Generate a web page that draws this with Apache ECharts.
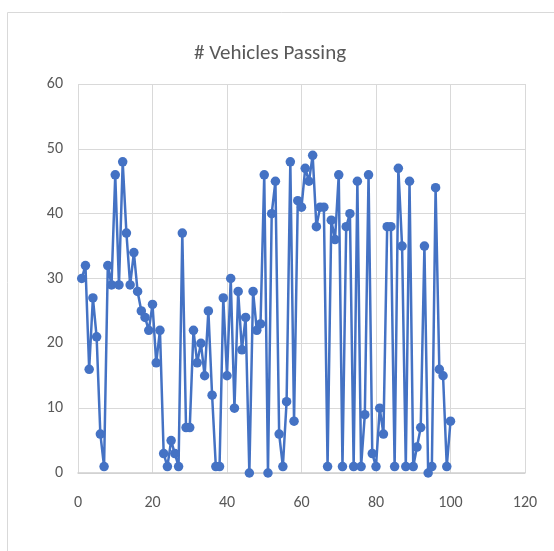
<!DOCTYPE html>
<html>
<head>
<meta charset="utf-8">
<script src="https://cdn.jsdelivr.net/npm/echarts@6/dist/echarts.min.js"></script>
<style>
  html, body { margin: 0; padding: 0; background: #fff; }
  #chart { width: 554px; height: 551px; }
</style>
</head>
<body>
<div id="chart"></div>
<script>
// sample index (1..100) and vehicle count
const sampleIndex = Array.from({ length: 100 }, (_, i) => i + 1)
const vehicles = [
  30, 32, 16, 27, 21, 6, 1, 32, 29, 46,
  29, 48, 37, 29, 34, 28, 25, 24, 22, 26,
  17, 22, 3, 1, 5, 3, 1, 37, 7, 7,
  22, 17, 20, 15, 25, 12, 1, 1, 27, 15,
  30, 10, 28, 19, 24, 0, 28, 22, 23, 46,
  0, 40, 45, 6, 1, 11, 48, 8, 42, 41,
  47, 45, 49, 38, 41, 41, 1, 39, 36, 46,
  1, 38, 40, 1, 45, 1, 9, 46, 3, 1,
  10, 6, 38, 38, 1, 47, 35, 1, 45, 1,
  4, 7, 35, 0, 1, 44, 16, 15, 1, 8
]
const xTicks = [0, 20, 40, 60, 80, 100, 120]
const yTicks = [0, 10, 20, 30, 40, 50, 60]

const fontFamily = 'Carlito, "Open Sans", sans-serif'
const chart = echarts.init(document.getElementById('chart'), null, { renderer: 'canvas' })

chart.setOption({
  animation: false,
  graphic: [
    {
      type: 'rect',
      shape: { x: 7.5, y: 12.5, width: 600, height: 600 },
      style: { fill: 'none', stroke: '#d9d9d9', lineWidth: 1 },
      silent: true
    }
  ],
  title: {
    text: '# Vehicles Passing',
    left: 265,
    top: 38,
    textAlign: 'center',
    textStyle: {
      color: '#595959',
      fontSize: 21,
      fontWeight: 'normal',
      fontFamily
    }
  },
  grid: {
    left: 78,
    right: 29,
    top: 84,
    bottom: 78
  },
  xAxis: {
    type: 'value',
    min: xTicks[0],
    max: xTicks[xTicks.length - 1],
    interval: 20,
    axisLine: { show: true, lineStyle: { color: '#d0d0d0', width: 1.5 } },
    axisTick: { show: false },
    axisLabel: { color: '#595959', fontSize: 16, margin: 22, fontFamily },
    splitLine: { show: true, lineStyle: { color: '#d9d9d9' } }
  },
  yAxis: {
    type: 'value',
    min: yTicks[0],
    max: yTicks[yTicks.length - 1],
    interval: 10,
    axisLine: { show: false },
    axisTick: { show: false },
    axisLabel: { color: '#595959', fontSize: 16, margin: 15, fontFamily },
    splitLine: { show: true, lineStyle: { color: '#d9d9d9' } }
  },
  series: [
    {
      type: 'line',
      data: sampleIndex.map((x, i) => [x, vehicles[i]]),
      symbol: 'circle',
      symbolSize: 9.5,
      showAllSymbol: true,
      lineStyle: { color: '#4472c4', width: 2.5 },
      itemStyle: { color: '#4472c4' }
    }
  ]
})
</script>
</body>
</html>
